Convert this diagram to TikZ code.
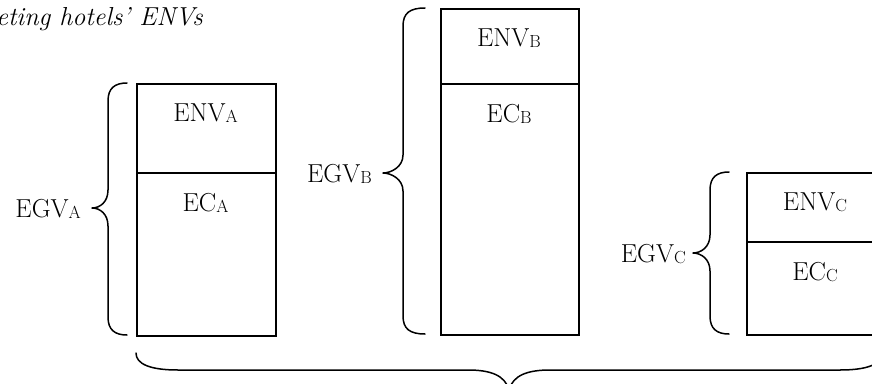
\documentclass[tikz,border=0pt]{standalone}
\tikzset{
  box/.style={draw, line width=1.5pt, rectangle, inner sep=0pt, anchor=north west},
  lbl/.style={font=\fontsize{26}{30}\selectfont, inner sep=0pt},
  ttl/.style={font=\fontsize{26}{30}\selectfont\itshape, inner sep=0pt},
  brace/.style={line width=1.5pt, line cap=round, line join=round}
}
\newcommand\subl[1]{\raisebox{-1pt}{\fontsize{17.5}{18}\selectfont #1}}
\newcommand\vbr[6]{%
  \draw[brace] (#1,#4) .. controls ({#2+7},{#4}) and (#2,{#4+5}) .. (#2,{#4+18})
    -- (#2,{#5-18}) .. controls (#2,{#5-6}) and ({#3+8},{#5}) .. (#3,#5)
    .. controls ({#3+8},{#5}) and (#2,{#5+6}) .. (#2,{#5+18})
    -- (#2,{#6-18}) .. controls (#2,{#6-5}) and ({#2+7},{#6}) .. (#1,#6);}
\begin{document}
\begin{tikzpicture}[x=1pt,y=-1pt]
\useasboundingbox (0,0) rectangle (872,383);
% title
\node[ttl, anchor=base east] (title) at (203,25) {peting hotels’ ENVs};
% hotel A
\node[box, minimum width=139pt, minimum height=89pt] (envA) at (136,83) {};
\node[box, minimum width=139pt, minimum height=163pt] (ecA) at (136,172) {};
\node[lbl, anchor=base] (tenvA) at (205.5,121) {ENV\subl{A}};
\node[lbl, anchor=base] (tecA) at (205.5,211.5) {EC\subl{A}};
\node[lbl, anchor=base east] (egvA) at (81,217) {EGV\subl{A}};
\vbr{127}{108}{92}{83}{208}{335}
% hotel B
\node[box, minimum width=138pt, minimum height=75pt] (envB) at (440,8) {};
\node[box, minimum width=138pt, minimum height=251pt] (ecB) at (440,83) {};
\node[lbl, anchor=base] (tenvB) at (509,46) {ENV\subl{B}};
\node[lbl, anchor=base] (tecB) at (509,122.5) {EC\subl{B}};
\node[lbl, anchor=base east] (egvB) at (372,182) {EGV\subl{B}};
\vbr{425}{403}{383}{8}{173}{334}
% hotel C
\node[box, minimum width=138pt, minimum height=69pt] (envC) at (746,172) {};
\node[box, minimum width=138pt, minimum height=93pt] (ecC) at (746,241) {};
\node[lbl, anchor=base] (tenvC) at (815,210) {ENV\subl{C}};
\node[lbl, anchor=base] (tecC) at (815,280.5) {EC\subl{C}};
\node[lbl, anchor=base east] (egvC) at (686,262) {EGV\subl{C}};
\vbr{729}{710}{693}{172}{253}{334}
% bottom brace
\draw[brace] (136,353) .. controls (136,364) and (150,370) .. (178,370)
  -- (468,370) .. controls (490,370) and (505,375) .. (509,390)
  .. controls (513,375) and (528,370) .. (550,370)
  -- (840,370) .. controls (868,370) and (882,364) .. (882,353);
\end{tikzpicture}
\end{document}
